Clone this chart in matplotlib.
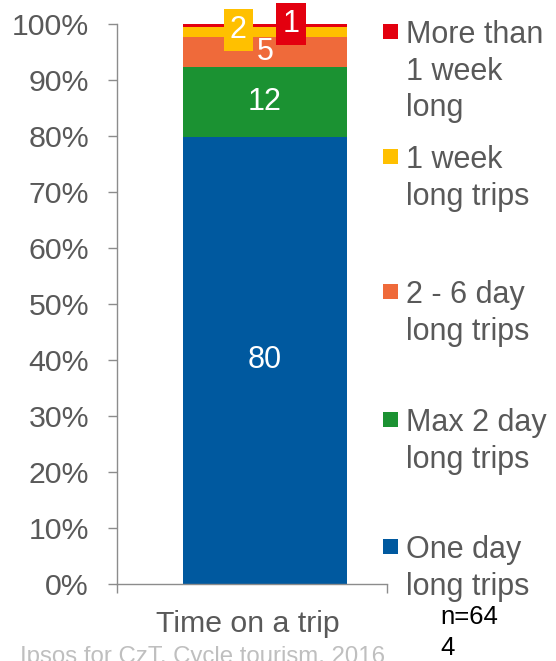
import matplotlib
matplotlib.use("Agg")
import matplotlib.pyplot as plt
from matplotlib.patches import Rectangle

plt.rcParams['font.family'] = ['Liberation Sans', 'DejaVu Sans']

# ---- data ----
category = "Time on a trip"
series_names = ["One day\nlong trips", "Max 2 day\nlong trips", "2 - 6 day\nlong trips",
                "1 week\nlong trips", "More than\n1 week\nlong"]
values = [79.9, 12.4, 5.3, 1.8, 0.6]
colors = ["#00599F", "#1B9232", "#EF6A3A", "#FFC000", "#E3000F"]
yticks = [0, 10, 20, 30, 40, 50, 60, 70, 80, 90, 100]
ytick_labels = [f"{v}%" for v in yticks]
sample_note = "n=64\n4"
source_note = "Ipsos for CzT, Cycle tourism, 2016"

W, H = 556, 661
fig = plt.figure(figsize=(W / 100, H / 100), dpi=100)
ax = fig.add_axes([117 / W, 1 - 584 / H, 270 / W, 560 / H])

bar_w = 0.6
xl, xr = -0.5415, 0.4464
ax.set_xlim(xl, xr)
ax.set_ylim(0, 100)

bottom = 0.0
mids = []
for v, c in zip(values, colors):
    ax.bar(0, v, bottom=bottom, width=bar_w, color=c, edgecolor='none', zorder=2)
    mids.append(bottom + v / 2)
    bottom += v

# in-bar labels
for i in range(3):
    ax.text(0, mids[i], f"{values[i]:.0f}", ha='center', va='center',
            color='white', fontsize=22, zorder=5)
# boxed labels for the thin top segments
offsets = [(-19.4, 1.5), (18.7, 1.4)]
for i, (dx, dy) in zip([3, 4], offsets):
    ax.annotate(f"{values[i]:.0f}", xy=(0, mids[i]), xytext=(dx, dy),
                textcoords='offset points', ha='center', va='center',
                color='white', fontsize=22, zorder=6, annotation_clip=False,
                bbox=dict(boxstyle='square,pad=0.2', fc=colors[i], ec='none'))

# axes styling
axis_col = "#8C8C8C"
text_col = "#595959"
for s in ['top', 'right']:
    ax.spines[s].set_visible(False)
for s in ['left', 'bottom']:
    ax.spines[s].set_color(axis_col)
    ax.spines[s].set_linewidth(1.0)
ax.set_yticks(yticks)
ax.set_yticklabels(ytick_labels)
ax.tick_params(axis='y', direction='out', length=6.5, width=1.0, color=axis_col,
               pad=13.7, labelsize=21.8, labelcolor=text_col)
ax.set_xticks([])
ax.set_xticks([xl, xr], minor=True)
ax.tick_params(axis='x', which='minor', direction='out', length=6.5, width=1.0,
               color=axis_col)

ax.text((248 - 117) / 270, (584 - 632) / 560, category, transform=ax.transAxes,
        ha='center', va='baseline', fontsize=21.8, color=text_col)

# legend (manual, top entry first)
leg_baselines = [42, 167, 302, 430, 557]
for name, c, yb in zip(series_names[::-1], colors[::-1], leg_baselines):
    ax.text((406 - 117) / 270, (584 - yb + 22) / 560, name, transform=ax.transAxes,
            ha='left', va='top', fontsize=22, color=text_col, linespacing=1.29,
            clip_on=False)
    sq = Rectangle(((383 - 117) / 270, (584 - yb + 3) / 560), 15 / 270, 15 / 560,
                   transform=ax.transAxes, facecolor=c, edgecolor='none', clip_on=False)
    ax.add_patch(sq)

fig.text(440 / W, 1 - 605 / H, sample_note, ha='left', va='top', fontsize=18.5,
         color='black', linespacing=1.36)
fig.text(20 / W, 1 - 646 / H, source_note, ha='left', va='top', fontsize=17.3,
         color='#BFBFBF')

fig.savefig("out.png", dpi=100)
